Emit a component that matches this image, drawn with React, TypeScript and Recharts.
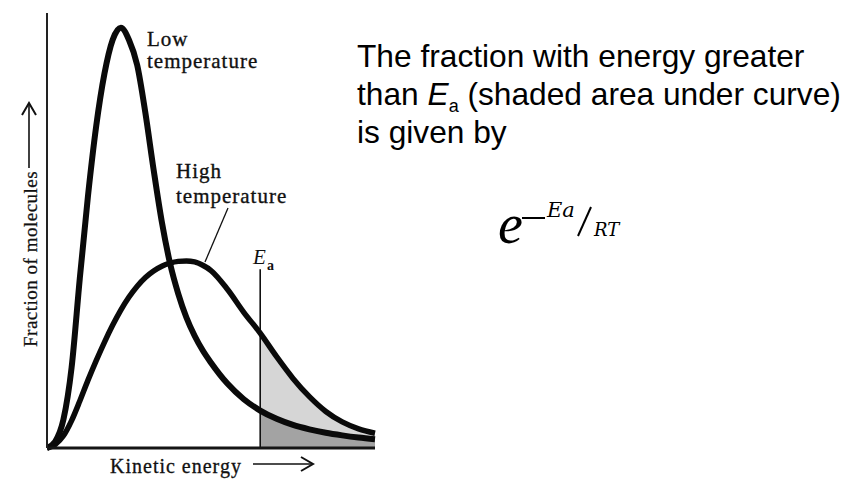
import React from 'react';
import {
  ComposedChart,
  Line,
  Area,
  XAxis,
  YAxis,
  ReferenceLine,
} from 'recharts';

// kinetic energy grid (arbitrary units, 0..100)
const energy = [
  0, 2.5, 5, 7.5, 10, 12.5, 15, 17.5, 20, 22.5, 25, 27.5, 30, 32.5, 35, 37.5,
  40, 42.5, 45, 47.5, 50, 55, 60, 65, 70, 75, 80, 85, 90, 95, 100,
];

// fraction of molecules, low temperature curve
const lowTemp = [
  0, 1.5, 6.5, 18.5, 39, 58, 74, 86, 93.8, 96.6, 93.8, 88, 77, 64, 52, 42.5,
  35.5, 30, 25.8, 22.4, 19.6, 14.8, 11.2, 8.6, 6.7, 5.3, 4.3, 3.5, 2.9, 2.4,
  2.0,
];

// fraction of molecules, high temperature curve
const highTemp = [
  0, 0.8, 2.8, 6.3, 10.8, 15.6, 20.1, 24.3, 28.2, 31.7, 34.7, 37.2, 39.2, 40.7,
  41.8, 42.5, 42.9, 43, 42.8, 42.0, 40.8, 36.5, 31.2, 26.4, 21, 16, 11.8, 8.4,
  6, 4.4, 3.4,
];

// activation energy position and the top of its marker
const EA = 65;
const EA_TOP = 41.1;

const data = energy.map((x, i) => ({
  x,
  low: lowTemp[i],
  high: highTemp[i],
  highShade: x >= EA ? highTemp[i] : null,
  lowShade: x >= EA ? lowTemp[i] : null,
}));

const serif = '"Liberation Serif", "Times New Roman", serif';
const sans = '"Liberation Sans", Arial, sans-serif';
const math = '"DejaVu Serif", serif';

export default function App() {
  return (
    <div
      style={{
        position: 'absolute',
        left: 0,
        top: 0,
        width: 861,
        height: 492,
        background: '#fff',
        overflow: 'hidden',
      }}
    >
      <ComposedChart
        width={861}
        height={492}
        data={data}
        margin={{ top: 13, left: 46, right: 486, bottom: 43 }}
      >
        <XAxis
          type="number"
          dataKey="x"
          domain={[0, 100]}
          tick={false}
          tickLine={false}
          height={1}
          axisLine={{ stroke: '#151515', strokeWidth: 3 }}
        />
        <YAxis
          type="number"
          domain={[0, 100]}
          tick={false}
          tickLine={false}
          width={1}
          axisLine={{ stroke: '#222', strokeWidth: 2 }}
        />
        <Area
          type="monotone"
          dataKey="highShade"
          fill="#d6d6d6"
          fillOpacity={1}
          stroke="none"
          isAnimationActive={false}
        />
        <Area
          type="monotone"
          dataKey="lowShade"
          fill="#a3a3a3"
          fillOpacity={1}
          stroke="none"
          isAnimationActive={false}
        />
        <ReferenceLine
          segment={[
            { x: EA, y: 0 },
            { x: EA, y: EA_TOP },
          ]}
          stroke="#111"
          strokeWidth={1.6}
        />
        <Line
          type="monotone"
          dataKey="high"
          stroke="#0a0a0a"
          strokeWidth={5.5}
          dot={false}
          isAnimationActive={false}
        />
        <Line
          type="monotone"
          dataKey="low"
          stroke="#0a0a0a"
          strokeWidth={6}
          dot={false}
          isAnimationActive={false}
        />
      </ComposedChart>

      <svg
        width={861}
        height={492}
        style={{ position: 'absolute', left: 0, top: 0, pointerEvents: 'none' }}
      >
        {/* curve labels */}
        <g
          fontFamily={serif}
          fontSize={21}
          fill="#111"
          stroke="#111"
          strokeWidth={0.35}
          letterSpacing={1}
        >
          <text x={147} y={46}>Low</text>
          <text x={147} y={68}>temperature</text>
          <text x={176} y={178}>High</text>
          <text x={176} y={203}>temperature</text>
        </g>
        <line x1={205} y1={262} x2={228} y2={208} stroke="#111" strokeWidth={1.3} />

        {/* Ea label */}
        <text x={253} y={264} fontFamily={serif} fontStyle="italic" fontSize={21} fill="#111">
          E
        </text>
        <text x={267} y={270} fontFamily={serif} fontWeight="bold" fontSize={14} fill="#111">
          a
        </text>

        {/* axis titles */}
        <text
          x={110}
          y={473}
          fontFamily={serif}
          fontSize={20}
          letterSpacing={1}
          fill="#111"
          stroke="#111"
          strokeWidth={0.3}
        >
          Kinetic energy
        </text>
        <line x1={253} y1={464} x2={312} y2={464} stroke="#111" strokeWidth={1.6} />
        <polyline points="301,457 313,464 301,471" fill="none" stroke="#111" strokeWidth={2} />

        <text
          transform="translate(36.5,347) rotate(-90)"
          fontFamily={serif}
          fontSize={19}
          letterSpacing={0.5}
          fill="#111"
          stroke="#111"
          strokeWidth={0.25}
        >
          Fraction of molecules
        </text>
        <line x1={29} y1={168} x2={29} y2={104} stroke="#111" strokeWidth={1.6} />
        <polyline points="22,115 29,103 36,115" fill="none" stroke="#111" strokeWidth={2} />

        {/* explanation */}
        <g fontFamily={sans} fontSize={31.7} fill="#000">
          <text x={357} y={67}>The fraction with energy greater</text>
          <text x={357} y={105}>
            than{' '}
            <tspan fontStyle="italic">E</tspan>
            <tspan fontSize={18} dy={7}>a</tspan>
            <tspan dy={-7}> (shaded area under curve)</tspan>
          </text>
          <text x={357} y={143}>is given by</text>
        </g>

        {/* formula e^{-Ea/RT} */}
        <text x={498} y={243} fontFamily={serif} fontStyle="italic" fontSize={56} fill="#000">
          e
        </text>
        <line x1={522} y1={218} x2={545} y2={218} stroke="#000" strokeWidth={2} />
        <text x={547} y={217} fontFamily={math} fontStyle="italic" fontSize={21} fill="#000">
          Ea
        </text>
        <line x1={578} y1={236} x2={591} y2={207} stroke="#000" strokeWidth={2} />
        <text x={594} y={236} fontFamily={math} fontStyle="italic" fontSize={18} fill="#000">
          RT
        </text>
      </svg>
    </div>
  );
}
